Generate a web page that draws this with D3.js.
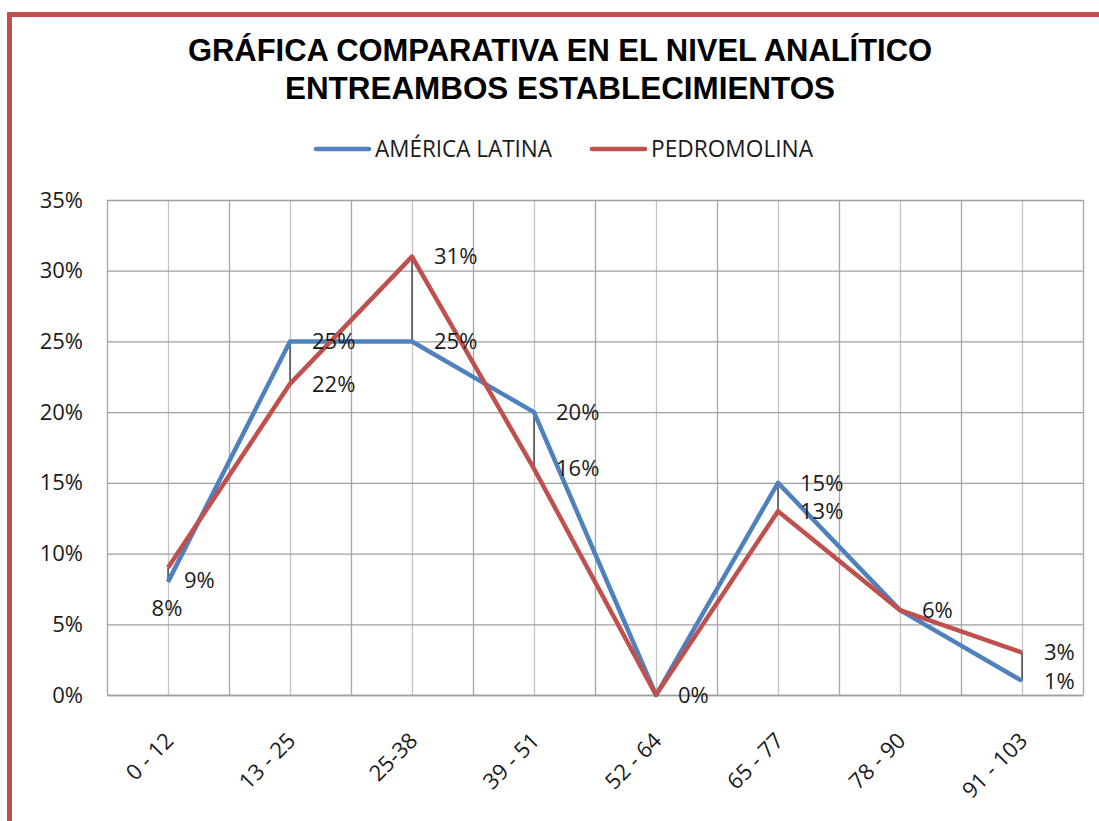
<!DOCTYPE html>
<html>
<head>
<meta charset="utf-8">
<script src="https://d3js.org/d3.v7.min.js"></script>
<style>
  body { margin: 0; background: #fff; }
  text { font-family: "Open Sans", sans-serif; fill: #1a1a1a; }
</style>
</head>
<body>
<div id="chart"></div>
<script>

// categories (score ranges)
var categories = ["0 - 12", "13 - 25", "25-38", "39 - 51", "52 - 64", "65 - 77", "78 - 90", "91 - 103"];

// series values (fraction)
var americaLatina = [0.08, 0.25, 0.25, 0.20, 0.00, 0.15, 0.06, 0.01];
var pedroMolina   = [0.09, 0.22, 0.31, 0.16, 0.00, 0.13, 0.06, 0.03];

var yTicks = [0, 0.05, 0.10, 0.15, 0.20, 0.25, 0.30, 0.35];

var seriesNames = ["AMÉRICA LATINA", "PEDROMOLINA"];
var titleLines = ["GRÁFICA COMPARATIVA EN EL NIVEL ANALÍTICO", "ENTREAMBOS ESTABLECIMIENTOS"];

var W = 1099, H = 821;
var margin = {top: 200, right: 16, bottom: 126, left: 107};
var width = W - margin.left - margin.right,
    height = H - margin.top - margin.bottom;

var blue = "#4f81bd", red = "#c0504d";

var svg = d3.select("#chart")
  .append("svg")
    .attr("width", W)
    .attr("height", H);

// red frame (left + top)
svg.append("path")
  .attr("d", "M9.5,821 L9.5,14.5 L1099,14.5")
  .attr("fill", "none")
  .attr("stroke", red)
  .attr("stroke-width", 5);

// title
svg.selectAll(".title")
  .data(titleLines)
  .enter()
  .append("text")
    .attr("class", "title")
    .attr("x", 560)
    .attr("y", function(d, i) { return 61 + i * 38; })
    .attr("text-anchor", "middle")
    .attr("textLength", function(d, i) { return i == 0 ? 744 : 550; })
    .attr("lengthAdjust", "spacingAndGlyphs")
    .style("font-family", "'Liberation Sans', Arial, sans-serif")
    .style("font-weight", "bold")
    .style("font-size", "31px")
    .style("fill", "#000")
    .text(function(d) { return d; });

// legend
var legendX = [316, 592];
var legendTextLen = [177, 162];
var lg = svg.selectAll(".legend")
  .data(seriesNames)
  .enter()
  .append("g")
    .attr("class", "legend")
    .attr("transform", function(d, i) { return "translate(" + legendX[i] + ",149)"; });
lg.append("line")
  .attr("x1", 0).attr("x2", 53)
  .attr("stroke", function(d, i) { return i == 0 ? blue : red; })
  .attr("stroke-width", 4.5)
  .attr("stroke-linecap", "round");
lg.append("text")
  .attr("x", 59)
  .attr("y", 8)
  .attr("textLength", function(d, i) { return legendTextLen[i]; })
  .attr("lengthAdjust", "spacingAndGlyphs")
  .style("font-size", "23px")
  .text(function(d) { return d; });

var g = svg.append("g")
  .attr("transform", "translate(" + margin.left + "," + margin.top + ")");

var x = d3.scaleBand()
  .domain(categories)
  .range([0, width]);

var y = d3.scaleLinear()
  .domain([0, 0.35])
  .range([height, 0]);

function cx(d) { return x(d) + x.bandwidth() / 2; }

// vertical gridlines: category boundaries and centres
var vgrid = [];
categories.forEach(function(c) { vgrid.push(x(c)); vgrid.push(cx(c)); });
vgrid.push(width);
g.selectAll(".vgrid")
  .data(vgrid)
  .enter()
  .append("line")
    .attr("x1", function(d) { return Math.round(d) + 0.5; })
    .attr("x2", function(d) { return Math.round(d) + 0.5; })
    .attr("y1", 0)
    .attr("y2", height)
    .attr("stroke", function(d, i) { return i % 2 == 0 ? "#a6a6a6" : "#c4c4c4"; })
    .attr("stroke-width", 1.3);

// horizontal gridlines + y axis labels
var yAxis = d3.axisLeft(y)
  .tickValues(yTicks)
  .tickFormat(d3.format(".0%"))
  .tickSize(-width)
  .tickPadding(24);
g.append("g")
  .call(yAxis)
  .call(function(s) {
    s.select(".domain").remove();
    s.selectAll(".tick line").attr("stroke", "#a0a0a0").attr("stroke-width", 1.3);
    s.selectAll(".tick text")
      .style("font-family", "'Open Sans', sans-serif")
      .style("font-size", "22px")
      .attr("fill", "#1a1a1a");
  });

// x axis labels (rotated)
g.append("g")
  .attr("transform", "translate(0," + height + ")")
  .call(d3.axisBottom(x).tickSize(0).tickFormat(function(d) { return d; }))
  .call(function(s) {
    s.select(".domain").attr("stroke", "#a0a0a0").attr("stroke-width", 1.3);
    s.selectAll(".tick text")
      .attr("text-anchor", "end")
      .attr("dy", 0)
      .attr("y", 0)
      .attr("transform", "translate(7,47) rotate(-45)")
      .style("font-family", "'Open Sans', sans-serif")
      .style("font-size", "22px")
      .attr("fill", "#1a1a1a");
  });

// high-low lines
g.selectAll(".hilo")
  .data(categories)
  .enter()
  .append("line")
    .attr("x1", function(d) { return cx(d); })
    .attr("x2", function(d) { return cx(d); })
    .attr("y1", function(d, i) { return y(americaLatina[i]); })
    .attr("y2", function(d, i) { return y(pedroMolina[i]); })
    .attr("stroke", "#000")
    .attr("stroke-width", 1);

var line = d3.line()
  .x(function(d, i) { return cx(categories[i]); })
  .y(function(d) { return y(d); });

g.append("path")
  .datum(americaLatina)
  .attr("d", line)
  .attr("fill", "none")
  .attr("stroke", blue)
  .attr("stroke-width", 4.5)
  .attr("stroke-linejoin", "round");

g.append("path")
  .datum(pedroMolina)
  .attr("d", line)
  .attr("fill", "none")
  .attr("stroke", red)
  .attr("stroke-width", 4.5)
  .attr("stroke-linejoin", "round");

// data labels (right of point; first category nudged like the original)
function addLabels(values, cls, first, skip) {
  g.selectAll("." + cls)
    .data(values)
    .enter()
    .append("text")
      .attr("class", cls)
      .attr("x", function(d, i) { return cx(categories[i]) + (i == 0 ? first[0] : 22); })
      .attr("y", function(d, i) { return y(d) + (i == 0 ? first[1] : 0); })
      .attr("dy", "0.35em")
      .attr("text-anchor", function(d, i) { return i == 0 && first[0] < 0 ? "middle" : "start"; })
      .style("font-size", "22px")
      .style("display", function(d, i) { return skip && skip[i] === d ? "none" : null; })
      .text(function(d) { return d3.format(".0%")(d); });
}
addLabels(americaLatina, "lblA", [-1, 26]);
// where both series share a value only one label shows
addLabels(pedroMolina, "lblP", [16, 13], americaLatina);

</script>
</body>
</html>
